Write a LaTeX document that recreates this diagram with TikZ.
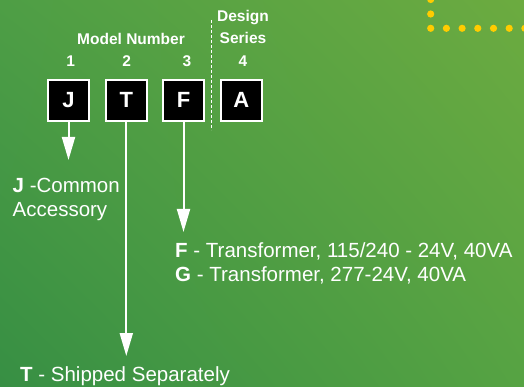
\documentclass[tikz,border=0pt]{standalone}
\usepackage{fontspec}
\setmainfont{Liberation Sans}
\usetikzlibrary{arrows.meta,shadings}
\definecolor{gUL}{RGB}{78,158,69}
\definecolor{gUR}{RGB}{108,171,64}
\definecolor{gLL}{RGB}{55,143,68}
\definecolor{gLR}{RGB}{86,163,67}
\definecolor{dotyellow}{RGB}{255,204,0}
\tikzset{
  codebox/.style={draw=white, line width=2pt, fill=black, minimum size=40.7pt, inner sep=0pt,
    text=white, font=\fontsize{22}{22}\selectfont\bfseries},
  hdr/.style={text=white, font=\fontsize{15.5}{15.5}\selectfont\bfseries, inner sep=0pt},
  desc/.style={text=white, font=\fontsize{20.5}{24}\selectfont, inner sep=0pt, anchor=base west},
  pointer/.style={draw=white, line width=2pt, -{Triangle[width=13pt,length=23pt]}},
  ydot/.style={fill=dotyellow, draw=none},
}
\begin{document}
\begin{tikzpicture}[x=1pt,y=-1pt]
\useasboundingbox (0,0) rectangle (524,387);
\shade[upper left=gUL, upper right=gUR, lower left=gLL, lower right=gLR] (0,0) rectangle (524,387);
% dots
\foreach \x in {430.7,446.4,462.1,477.8,493.5,509.2,524.9} \fill[ydot] (\x,28.3) circle (3.6);
\foreach \y in {14,-0.5} \fill[ydot] (430.7,\y) circle (3.6);
% headers
\node[hdr, anchor=base] (mn) at (131,44.3) {Model Number};
\node[hdr, anchor=base] (ds1) at (243,21.7) {Design};
\node[hdr, anchor=base] (ds2) at (243,43.3) {Series};
\node[hdr, anchor=base] (n1) at (70.7,66.7) {1};
\node[hdr, anchor=base] (n2) at (126.7,66.7) {2};
\node[hdr, anchor=base] (n3) at (187,66.7) {3};
\node[hdr, anchor=base] (n4) at (243,66.7) {4};
% separator
\coordinate (sepT) at (211,20);
\coordinate (sepB) at (211,130);
\draw[white, line width=1pt, dash pattern=on 3pt off 2pt] (sepT) -- (sepB);
% boxes
\node[codebox] (bJ) at (68.5,100.3) {J};
\node[codebox] (bT) at (126.3,100.3) {T};
\node[codebox] (bF) at (183.5,100.3) {F};
\node[codebox] (bA) at (241.3,100.3) {A};
% descriptions
\node[desc] (dJ) at (12.5,192.5) {\textbf{J} -Common};
\node[desc] (dJ2) at (12.5,216.2) {Accessory};
\node[desc] (dF) at (175,257.5) {\textbf{F} - Transformer, 115/240 - 24V, 40VA};
\node[desc] (dG) at (175,281.5) {\textbf{G} - Transformer, 277-24V, 40VA};
\node[desc] (dT) at (20,381.5) {\textbf{T} - Shipped Separately};
% arrow ends
\coordinate (eJ) at (68.5,160);
\coordinate (eF) at (183.5,232);
\coordinate (eT) at (126.3,356);
\draw[pointer] (bJ.south) -- (eJ);
\draw[pointer] (bT.south) -- (eT);
\draw[pointer] (bF.south) -- (eF);
\end{tikzpicture}
\end{document}
